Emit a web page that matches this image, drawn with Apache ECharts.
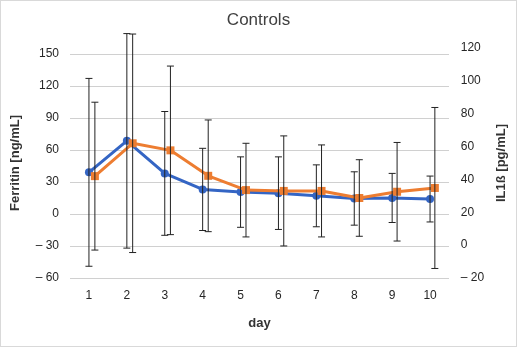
<!DOCTYPE html>
<html><head><meta charset="utf-8">
<script src="https://cdn.jsdelivr.net/npm/echarts@6/dist/echarts.min.js"></script>
<style>html,body{margin:0;padding:0;background:#fff}#c{width:515px;height:345px;border:1px solid #d9d9d9}</style>
</head><body><div id="c"></div>
<script>
const days = ['1','2','3','4','5','6','7','8','9','10'];
const ferritinMean = [39, 68.5, 38, 23, 20.5, 19.5, 17, 14.5, 15, 14];
const ferritinErr  = [88, 100.5, 58, 38.5, 33, 34, 29, 25, 23, 21.5];
const il1bMean = [42, 62, 57.7, 42.2, 33.5, 33, 33, 28.7, 32.5, 34.8];
const il1bErr  = [45, 66.5, 51.3, 34, 28.5, 33.5, 28, 23.3, 30, 49];
const leftTicks = {min: -60, max: 155.5, step: 30};
const rightTicks = {min: -20, max: 120, step: 20};

const FONT = 'Liberation Sans, Arial, sans-serif';
const fmt = v => v < 0 ? '\u2013 ' + Math.abs(v) : String(v);

function errData(mean, err){ return mean.map((m,i)=>[i, m-err[i], m+err[i]]); }
function errRender(params, api){
  const x = api.value(0);
  const lo = api.coord([x, api.value(1)]);
  const hi = api.coord([x, api.value(2)]);
  const cap = 3.5;
  const st = {stroke:'#222', lineWidth:1};
  return {type:'group', children:[
    {type:'line', shape:{x1:lo[0], y1:lo[1], x2:hi[0], y2:hi[1]}, style:st},
    {type:'line', shape:{x1:lo[0]-cap, y1:lo[1], x2:lo[0]+cap, y2:lo[1]}, style:st},
    {type:'line', shape:{x1:hi[0]-cap, y1:hi[1], x2:hi[0]+cap, y2:hi[1]}, style:st}
  ]};
}

const chart = echarts.init(document.getElementById('c'));
chart.setOption({
  animation:false,
  textStyle:{fontFamily:FONT},
  title:{text:'Controls', left:'center', top:6, textStyle:{fontFamily:FONT, fontSize:17, fontWeight:'normal', color:'#404040'}},
  grid:[
    {left:68, top:47, width:380, height:230},
    {left:75, top:47, width:380, height:230}
  ],
  xAxis:[
    {type:'category', gridIndex:0, data:days, boundaryGap:true,
     axisLine:{show:false}, axisTick:{show:false},
     axisLabel:{color:'#262626', fontSize:12, fontFamily:FONT, margin:12},
     name:'day', nameLocation:'middle', nameGap:39,
     nameTextStyle:{fontFamily:FONT, fontSize:13, fontWeight:'bold', color:'#333'}},
    {type:'category', gridIndex:1, data:days, boundaryGap:true, show:false}
  ],
  yAxis:[
    {type:'value', gridIndex:0, position:'left', min:leftTicks.min, max:leftTicks.max, interval:leftTicks.step,
     axisLine:{show:false}, axisTick:{show:false},
     axisLabel:{color:'#262626', fontSize:12, fontFamily:FONT, margin:11, formatter:fmt, showMaxLabel:false},
     splitLine:{show:true, showMaxLine:false, lineStyle:{color:'#d0d0d0', width:1}},
     name:'Ferritin [ng/mL]', nameLocation:'middle', nameGap:48, nameRotate:90,
     nameTextStyle:{fontFamily:FONT, fontSize:13, fontWeight:'bold', color:'#333'}},
    {type:'value', gridIndex:1, position:'right', min:rightTicks.min, max:rightTicks.max, interval:rightTicks.step,
     axisLine:{show:false}, axisTick:{show:false}, splitLine:{show:false},
     axisLabel:{color:'#262626', fontSize:12, fontFamily:FONT, margin:7, formatter:fmt},
     name:'IL1ß [pg/mL]', nameLocation:'middle', nameGap:36, nameRotate:90,
     nameTextStyle:{fontFamily:FONT, fontSize:13, fontWeight:'bold', color:'#333'}}
  ],
  series:[
    {type:'line', name:'Ferritin', xAxisIndex:0, yAxisIndex:0, data:ferritinMean,
     symbol:'circle', symbolSize:8, showAllSymbol:true,
     lineStyle:{color:'#3465c4', width:3}, itemStyle:{color:'#3465c4'}, z:2},
    {type:'line', name:'IL1ß', xAxisIndex:1, yAxisIndex:1, data:il1bMean,
     symbol:'rect', symbolSize:8, showAllSymbol:true,
     lineStyle:{color:'#ed7d31', width:3}, itemStyle:{color:'#ed7d31'}, z:3},
    {type:'custom', xAxisIndex:0, yAxisIndex:0, data:errData(ferritinMean, ferritinErr),
     renderItem:errRender, clip:false, z:4, encode:{x:0, y:[1,2]}},
    {type:'custom', xAxisIndex:1, yAxisIndex:1, data:errData(il1bMean, il1bErr),
     renderItem:errRender, clip:false, z:4, encode:{x:0, y:[1,2]}}
  ]
});
</script></body></html>
